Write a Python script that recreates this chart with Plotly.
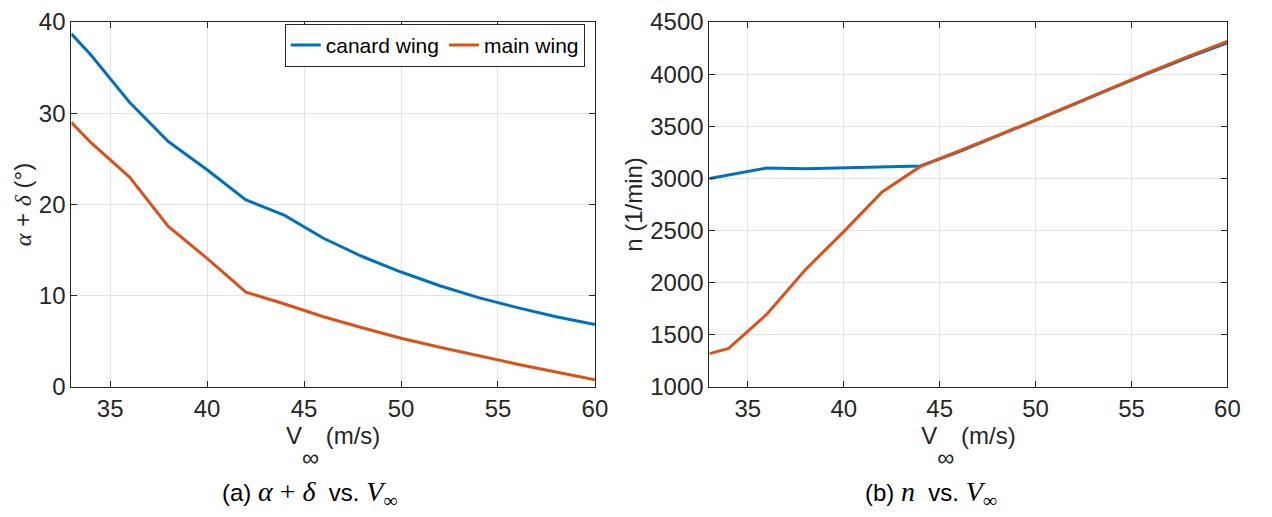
import plotly.graph_objects as go

# ---- data ----
v_inf = [33, 34, 36, 38, 40, 42, 44, 46, 48, 50, 52, 54, 56, 58, 60]
canard_angle = [38.7, 36.4, 31.2, 26.9, 23.8, 20.5, 18.8, 16.3, 14.3, 12.6, 11.1, 9.8, 8.7, 7.7, 6.85]
main_angle = [29.0, 26.8, 23.0, 17.6, 14.1, 10.4, 9.1, 7.7, 6.5, 5.35, 4.35, 3.4, 2.5, 1.65, 0.8]
canard_rpm = [3000, 3035, 3100, 3092, 3102, 3117, 3120, 3255, 3405, 3555, 3710, 3865, 4018, 4163, 4300]
main_rpm = [1320, 1370, 1700, 2125, 2490, 2870, 3115, 3260, 3410, 3560, 3715, 3870, 4025, 4172, 4315]
x_ticks = [35, 40, 45, 50, 55, 60]
y1_ticks = [0, 10, 20, 30, 40]
y2_ticks = [1000, 1500, 2000, 2500, 3000, 3500, 4000, 4500]

BLUE = "#0072BD"
ORANGE = "#D95319"
AX = "#262626"
GRID = "#e3e3e3"
FONT = "Liberation Sans"
SERIF = "Liberation Serif"
W, H = 1272, 517
OFF = 8  # page body margin offset
TOP, BOT = 15 - OFF, 387 - OFF  # plot area in figure pixels
PH = BOT - TOP


def px(x):
    return (x - OFF) / W


def py(y):
    return (BOT - (y - OFF)) / PH


fig = go.Figure()
fig.add_trace(go.Scatter(x=v_inf, y=canard_angle, mode="lines", name="canard wing",
                         line=dict(color=BLUE, width=3), xaxis="x", yaxis="y"))
fig.add_trace(go.Scatter(x=v_inf, y=main_angle, mode="lines", name="main wing",
                         line=dict(color=ORANGE, width=3), xaxis="x", yaxis="y"))
fig.add_trace(go.Scatter(x=v_inf, y=canard_rpm, mode="lines", name="canard wing",
                         line=dict(color=BLUE, width=3), xaxis="x2", yaxis="y2", showlegend=False))
fig.add_trace(go.Scatter(x=v_inf, y=main_rpm, mode="lines", name="main wing",
                         line=dict(color=ORANGE, width=3), xaxis="x2", yaxis="y2", showlegend=False))

common = dict(showline=True, linecolor=AX, linewidth=1, mirror="ticks", ticks="inside",
              ticklen=6, tickcolor=AX, showgrid=True, gridcolor=GRID, gridwidth=1,
              zeroline=False, ticklabeloverflow="allow",
              tickfont=dict(family=FONT, size=24, color=AX))

xtitle = dict(text="V<span style='font-size:24px;baseline-shift:-22px'>∞</span> (m/s)",
              font=dict(family=FONT, size=24, color=AX), standoff=6)

fig.update_layout(
    width=W, height=H,
    margin=dict(l=0, r=0, t=TOP, b=H - BOT),
    paper_bgcolor="white", plot_bgcolor="white",
    font=dict(family=FONT, color=AX),
    xaxis=dict(domain=[px(72), px(601)], range=[33, 60], tickvals=x_ticks, anchor="y",
               title=xtitle, **common),
    yaxis=dict(domain=[0, 1], range=[0, 40], tickvals=y1_ticks, anchor="x",
               title=dict(text=f"<span style='font-family:{SERIF}'><i>α</i></span> + "
                               f"<span style='font-family:{SERIF}'><i>δ</i></span> (°)",
                          font=dict(family=FONT, size=24, color=AX), standoff=0),
               **common),
    xaxis2=dict(domain=[px(716.7), px(1240)], range=[33, 60], tickvals=x_ticks, anchor="y2",
                title=xtitle, **common),
    yaxis2=dict(domain=[0, 1], range=[1000, 4500], tickvals=y2_ticks, anchor="x2",
                title=dict(text="n (1/min)", font=dict(family=FONT, size=24, color=AX), standoff=0),
                **common),
    legend=dict(orientation="h", x=px(590.7), xanchor="right", y=py(17), yanchor="top",
                bgcolor="white", bordercolor=AX, borderwidth=1,
                font=dict(family=FONT, size=21, color="#000000"),
                tracegroupgap=0, itemwidth=30),
)

cap_font = dict(family=FONT, size=24, color="#000000")
MATH = f"font-family:{SERIF};font-size:28px"
fig.add_annotation(
    text=f"(a) <span style='{MATH}'><i>α</i> + <i>δ</i></span>  vs. "
         f"<span style='{MATH}'><i>V</i><sub>∞</sub></span>",
    xref="paper", yref="paper", x=px(313), y=py(496), xanchor="center", yanchor="middle",
    showarrow=False, font=cap_font)
fig.add_annotation(
    text=f"(b) <span style='{MATH}'><i>n</i></span>  vs. "
         f"<span style='{MATH}'><i>V</i><sub>∞</sub></span>",
    xref="paper", yref="paper", x=px(941), y=py(496), xanchor="center", yanchor="middle",
    showarrow=False, font=cap_font)

fig.write_html("out.html")
